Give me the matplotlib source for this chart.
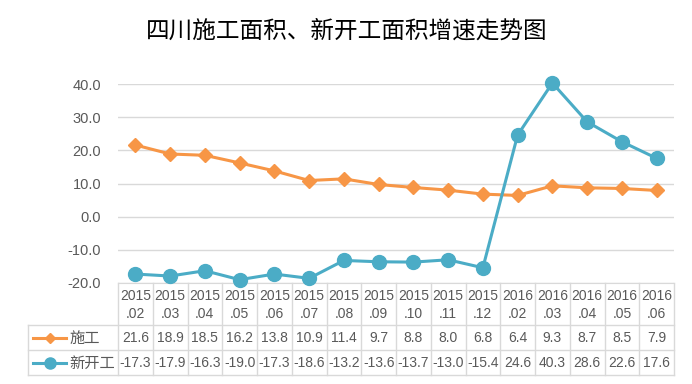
import matplotlib.pyplot as plt
from matplotlib.lines import Line2D
import matplotlib.transforms as mtrans

# Category labels (year / month) and the two series
years = ["2015"] * 11 + ["2016"] * 5
months = [".02", ".03", ".04", ".05", ".06", ".07", ".08", ".09", ".10", ".11", ".12",
          ".02", ".03", ".04", ".05", ".06"]
shigong = [21.6, 18.9, 18.5, 16.2, 13.8, 10.9, 11.4, 9.7, 8.8, 8.0, 6.8, 6.4, 9.3, 8.7, 8.5, 7.9]
xinkaigong = [-17.3, -17.9, -16.3, -19.0, -17.3, -18.6, -13.2, -13.6, -13.7, -13.0, -15.4,
              24.6, 40.3, 28.6, 22.6, 17.6]
series_names = ["施工", "新开工"]
yticks = [-20, -10, 0, 10, 20, 30, 40]

orange = "#F79646"
blue = "#4BACC6"
grid_c = "#D9D9D9"
txt_c = "#595959"
num_font = "Liberation Sans"
cjk = ["Noto Sans CJK SC", "DejaVu Sans"]
fs = 10

W, H = 692, 384
fig = plt.figure(figsize=(W / 100, H / 100), dpi=100)
ax = fig.add_axes([118 / W, 1 - 283 / H, (674 - 118) / W, (283 - 84) / H])

n = len(years)
xs = list(range(n))
ax.plot(xs, shigong, color=orange, lw=2.2, marker="D", ms=7, clip_on=False, zorder=3)
ax.plot(xs, xinkaigong, color=blue, lw=2.2, marker="o", ms=10, clip_on=False, zorder=3)

ax.set_xlim(-0.5, n - 0.5)
ax.set_ylim(-20, 40)
ax.set_yticks(yticks)
ax.set_yticklabels([f"{v:.1f}" for v in yticks], fontfamily=num_font, fontsize=10.5, color=txt_c)
ax.tick_params(axis="y", length=0, pad=12)
ax.set_xticks([])
ax.grid(axis="y", color=grid_c, lw=1)
ax.set_axisbelow(True)
for s in ["top", "right", "left"]:
    ax.spines[s].set_visible(False)
ax.spines["bottom"].set_color(grid_c)

# data table under the axis: rows in figure pixels, columns in data x
tr = mtrans.blended_transform_factory(ax.transData, fig.transFigure)
def fy(py):
    return 1 - py / H

row_top, row1, row2, row_bot = 283, 325, 350, 375
line_kw = dict(color=grid_c, lw=1)
for b in [i - 0.5 for i in range(n + 1)]:
    fig.add_artist(Line2D([b, b], [fy(row_top), fy(row_bot)], transform=tr, **line_kw))
for py in [row1, row2, row_bot]:
    fig.add_artist(Line2D([28 / W, 674 / W], [fy(py), fy(py)], transform=fig.transFigure, **line_kw))
fig.add_artist(Line2D([28 / W, 28 / W], [fy(row1), fy(row_bot)], transform=fig.transFigure, **line_kw))

for i in range(n):
    fig.text(i, fy(296), years[i], transform=tr, ha="center", va="center",
             fontfamily=num_font, fontsize=fs, color=txt_c)
    fig.text(i, fy(314), months[i], transform=tr, ha="center", va="center",
             fontfamily=num_font, fontsize=fs, color=txt_c)
    fig.text(i, fy(338), f"{shigong[i]:.1f}", transform=tr, ha="center", va="center",
             fontfamily=num_font, fontsize=fs, color=txt_c)
    fig.text(i, fy(363), f"{xinkaigong[i]:.1f}", transform=tr, ha="center", va="center",
             fontfamily=num_font, fontsize=fs, color=txt_c)

# legend keys inside the table
for py, c, m, ms, name in [(338, orange, "D", 5, series_names[0]), (363, blue, "o", 8, series_names[1])]:
    fig.add_artist(Line2D([33 / W, 66 / W], [fy(py), fy(py)], transform=fig.transFigure,
                          color=c, lw=2.2))
    fig.add_artist(Line2D([49.5 / W], [fy(py)], transform=fig.transFigure, color=c,
                          marker=m, ms=ms, lw=0))
    fig.text(69 / W, fy(py), name, ha="left", va="center", fontfamily=cjk,
             fontsize=11, color=txt_c)

fig.text(347 / W, fy(31), "四川施工面积、新开工面积增速走势图", ha="center", va="center",
         fontfamily=cjk, fontsize=17, color="#000000")

fig.savefig("out.png", dpi=100)
